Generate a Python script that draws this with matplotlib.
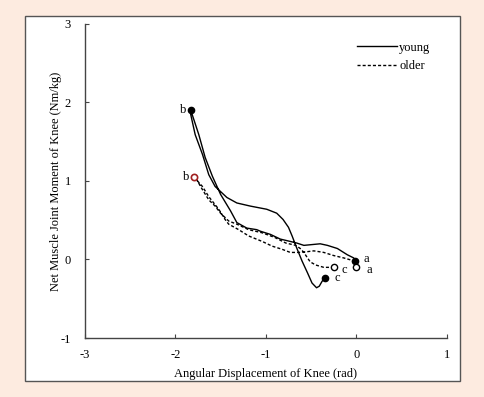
import matplotlib
matplotlib.use("Agg")
import matplotlib.pyplot as plt
from matplotlib.patches import Rectangle

plt.rcParams['font.family'] = ['Liberation Serif', 'DejaVu Serif']
plt.rcParams['axes.unicode_minus'] = False

# young: a -> b -> c (rad, Nm/kg)
young_x = [-0.01, -0.03, -0.10, -0.21, -0.32, -0.40, -0.49, -0.58, -0.66, -0.73,
           -0.84, -0.95, -1.06, -1.10, -1.21, -1.32, -1.39, -1.50, -1.59, -1.67,
           -1.74, -1.82, -1.83,
           -1.83, -1.78, -1.70, -1.63, -1.56, -1.43, -1.32, -1.17, -0.99, -0.88,
           -0.81, -0.75, -0.71, -0.66, -0.60, -0.54, -0.49, -0.44, -0.41, -0.38, -0.35]
young_y = [-0.02, 0.02, 0.06, 0.14, 0.18, 0.20, 0.19, 0.18, 0.21, 0.23,
           0.26, 0.32, 0.36, 0.38, 0.40, 0.47, 0.62, 0.83, 1.06, 1.30,
           1.59, 1.87, 1.90,
           1.85, 1.59, 1.34, 1.08, 0.93, 0.79, 0.72, 0.68, 0.64, 0.59,
           0.51, 0.41, 0.30, 0.15, -0.02, -0.17, -0.30, -0.36, -0.34, -0.28, -0.23]

# older: a -> b -> c
older_x = [0.00, -0.01, -0.05, -0.14, -0.25, -0.36, -0.47, -0.54, -0.64, -0.73,
           -0.82, -0.93, -1.04, -1.19, -1.30, -1.41, -1.45, -1.52, -1.63, -1.70,
           -1.77, -1.79,
           -1.76, -1.70, -1.63, -1.56, -1.50, -1.41, -1.32, -1.19, -1.04, -0.90,
           -0.78, -0.67, -0.62, -0.58, -0.54, -0.51, -0.45, -0.36, -0.25]
older_y = [-0.10, -0.06, -0.01, 0.02, 0.05, 0.09, 0.11, 0.10, 0.09, 0.09,
           0.13, 0.17, 0.23, 0.30, 0.38, 0.45, 0.51, 0.64, 0.80, 0.93,
           1.02, 1.05,
           1.01, 0.89, 0.76, 0.68, 0.59, 0.49, 0.45, 0.38, 0.34, 0.28,
           0.21, 0.18, 0.14, 0.09, 0.02, -0.03, -0.07, -0.10, -0.10]

fig = plt.figure(figsize=(4.84, 3.97), dpi=100)
fig.patch.set_facecolor('#fdebe0')
fig.patches.append(Rectangle((24.5 / 484, 1 - 381 / 397), 435.5 / 484, 365.5 / 397,
                             transform=fig.transFigure, facecolor='white',
                             edgecolor='#555555', linewidth=1.0, zorder=-5))

ax = fig.add_axes([0.175, 0.1486, 0.7485, 0.791])
ax.set_facecolor('none')
ax.set_zorder(2)

ax.plot(young_x, young_y, color='black', linewidth=1.0, label='young')
ax.plot(older_x, older_y, color='black', linewidth=1.0, linestyle=(0, (2.2, 1.5)), label='older')

# key points
ax.plot([young_x[0], young_x[22], young_x[-1]], [young_y[0], young_y[22], young_y[-1]],
        'o', color='black', markersize=4.5)
ax.plot([older_x[0], older_x[-1]], [older_y[0], older_y[-1]], 'o',
        markerfacecolor='white', markeredgecolor='black', markersize=4.5, markeredgewidth=1)
ax.plot([older_x[21]], [older_y[21]], 'o', markerfacecolor='white',
        markeredgecolor='#a02020', markersize=4.5, markeredgewidth=1.2)

fs = 9
ax.text(young_x[22] - 0.05, young_y[22], 'b', ha='right', va='center', fontsize=fs)
ax.text(older_x[21] - 0.05, older_y[21], 'b', ha='right', va='center', fontsize=fs)
ax.text(young_x[0] + 0.09, young_y[0] + 0.02, 'a', ha='left', va='center', fontsize=fs)
ax.text(older_x[0] + 0.11, older_y[0] - 0.04, 'a', ha='left', va='center', fontsize=fs)
ax.text(young_x[-1] + 0.11, young_y[-1] - 0.01, 'c', ha='left', va='center', fontsize=fs)
ax.text(older_x[-1] + 0.09, older_y[-1] - 0.04, 'c', ha='left', va='center', fontsize=fs)

ax.set_xlim(-3, 1)
ax.set_ylim(-1, 3)
ax.set_xticks([-3, -2, -1, 0, 1])
ax.set_yticks([-1, 0, 1, 2, 3])
for s in ['top', 'right']:
    ax.spines[s].set_visible(False)
for s in ['left', 'bottom']:
    ax.spines[s].set_color('#444444')
    ax.spines[s].set_linewidth(1.0)
ax.tick_params(direction='in', length=3, width=0.8, color='#444444',
               labelsize=fs, pad=8)
ax.tick_params(axis='y', pad=10)

ax.set_xlabel('Angular Displacement of Knee (rad)', fontsize=fs, labelpad=5)
ax.set_ylabel('Net Muscle Joint Moment of Knee (Nm/kg)', fontsize=fs, labelpad=-1)

ax.legend(loc='upper right', bbox_to_anchor=(0.985, 0.98), frameon=False,
          fontsize=fs, handlelength=3.2, handletextpad=0.2, labelspacing=0.55)

fig.savefig('out.png', dpi=100, facecolor=fig.get_facecolor())
